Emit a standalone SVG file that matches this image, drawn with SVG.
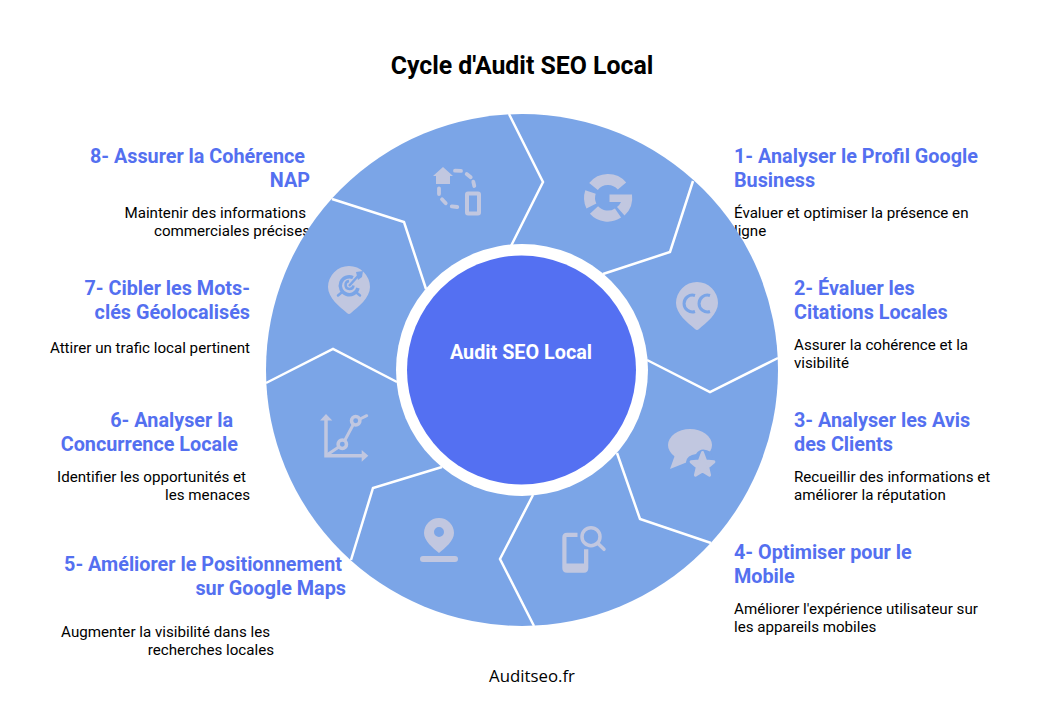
<svg xmlns="http://www.w3.org/2000/svg" width="1044" height="708" viewBox="0 0 1044 708">
<style>
text{font-family:Roboto,"Liberation Sans",sans-serif}
.t{font-size:24.85px;font-weight:700;fill:#000}
.h{font-size:19.8px;font-weight:700;fill:#5470f0}
.b{font-size:15.15px;fill:#000}
.e{text-anchor:end}
.seg{fill:#7ba5e7}
.sep{fill:none;stroke:#fff;stroke-width:2.5}
.i{fill:#c1c7e0}
.s{fill:none;stroke:#c1c7e0}
.k{fill:none;stroke:#7ba5e7}
</style>
<rect width="1044" height="708" fill="#fff"/>
<text class="t" x="522" y="74" text-anchor="middle">Cycle d'Audit SEO Local</text>
<g id="label-1"><text class="h" x="734" y="163">1- Analyser le Profil Google</text><text class="h" x="734" y="187">Business</text><text class="b" x="734" y="218">Évaluer et optimiser la présence en</text><text class="b" x="734" y="236">ligne</text></g>
<g id="label-2"><text class="h" x="794" y="295">2- Évaluer les</text><text class="h" x="794" y="319">Citations Locales</text><text class="b" x="794" y="350">Assurer la cohérence et la</text><text class="b" x="794" y="368">visibilité</text></g>
<g id="label-3"><text class="h" x="794" y="427">3- Analyser les Avis</text><text class="h" x="794" y="451">des Clients</text><text class="b" x="794" y="482">Recueillir des informations et</text><text class="b" x="794" y="500">améliorer la réputation</text></g>
<g id="label-4"><text class="h" x="734" y="559">4- Optimiser pour le</text><text class="h" x="734" y="583">Mobile</text><text class="b" x="734" y="614">Améliorer l'expérience utilisateur sur</text><text class="b" x="734" y="632">les appareils mobiles</text></g>
<g id="label-5"><text class="h e" x="342" y="571">5- Améliorer le Positionnement</text><text class="h e" x="346" y="595">sur Google Maps</text><text class="b e" x="270" y="637">Augmenter la visibilité dans les</text><text class="b e" x="274" y="655">recherches locales</text></g>
<g id="label-6"><text class="h e" x="233" y="427">6- Analyser la</text><text class="h e" x="238" y="451">Concurrence Locale</text><text class="b e" x="246" y="482">Identifier les opportunités et</text><text class="b e" x="250" y="500">les menaces</text></g>
<g id="label-7"><text class="h e" x="250" y="295">7- Cibler les Mots-</text><text class="h e" x="250" y="319">clés Géolocalisés</text><text class="b e" x="250" y="353">Attirer un trafic local pertinent</text></g>
<g id="label-8"><text class="h e" x="305" y="163">8- Assurer la Cohérence</text><text class="h e" x="310" y="187">NAP</text><text class="b e" x="306" y="218">Maintenir des informations</text><text class="b e" x="310" y="236">commerciales précises</text></g>
<g id="wheel"><circle class="seg" cx="522" cy="370" r="256"/></g>
<g id="connectors">
<path class="sep" d="M509,114L543,182L511,246"/>
<path class="sep" d="M693,181L670,252L603,274"/>
<path class="sep" d="M778,358L710,392L647,360"/>
<path class="sep" d="M711,543L640,519L617,453"/>
<path class="sep" d="M534,626L500,559L533,495"/>
<path class="sep" d="M351,560L373,488L442,467"/>
<path class="sep" d="M266,383L333,349L397,382"/>
<path class="sep" d="M332,199L404,222L426,289"/>
</g>
<g id="center"><circle cx="522" cy="370" r="126" fill="#fff"/><circle cx="521.500" cy="370" r="114.500" fill="#5470f2"/><text x="521" y="359" text-anchor="middle" font-size="19.800" font-weight="700" fill="#fff">Audit SEO Local</text></g>
<g id="icon-1">
<path class="s" stroke-width="11" d="M593.500,186.500A18.500,18.500 0 0 1 622,186M590.500,192A18.500,18.500 0 0 0 591.400,206M594,210A18.500,18.500 0 0 0 618,213"/>
<path class="i" d="M609.500,194.500H632A24,24 0 0 1 624.500,215.500L617,207A13,13 0 0 0 621,202H609.500Z"/>
</g>
<g id="icon-2">
<path class="i" d="M676,303A21,21 0 0 1 718,303C718,314 706,323 699,329Q697,331 695,329C688,323 676,314 676,303Z"/>
<path class="k" stroke-width="3" d="M695,295.500A8.400,8.400 0 1 0 695,311.500M710,295.500A8.400,8.400 0 1 0 710,311.500"/>
</g>
<g id="icon-3">
<ellipse class="i" cx="690" cy="445" rx="22" ry="16"/>
<path class="i" d="M675,455L670,469L690,461Z"/>
<path fill="#7ba5e7" d="M686,462Q687,455 696,454Q701,446 711,452L720,480H686Z"/>
<path class="i" stroke="#c1c7e0" stroke-width="3" stroke-linejoin="round" d="M702.500,452.500L705.700,461.050L713.900,461.800L707.700,467.200L709.550,475.200L702.500,471L695.450,475.200L697.300,467.200L691.100,461.800L699.300,461.050Z"/>
</g>
<g id="icon-4">
<path class="i" d="M577.500,532.700H567Q562.300,532.700 562.300,537.500V568Q562.300,572.700 567,572.700H584Q588.300,572.700 588.300,568V549.300H584V563.500H566.500V537H577.500Z"/>
<circle class="s" stroke-width="3.500" cx="591" cy="536.700" r="9"/>
<path class="s" stroke-width="3.500" stroke-linecap="round" d="M597.700,543.300L604,549.300"/>
</g>
<g id="icon-5">
<path class="i" fill-rule="evenodd" d="M424,533A15,15 0 0 1 454,533C454,541 445,548 439,553C433,548 424,541 424,533ZM444,532A5,5 0 1 0 434,532A5,5 0 1 0 444,532Z"/>
<rect class="i" x="420" y="556" width="38" height="6" rx="3"/>
</g>
<g id="icon-6">
<path class="s" stroke-width="3.500" d="M326,418V455.700H364"/>
<path class="i" d="M320,420.500L326,414L332.300,420.500ZM361.700,450L368.300,455.700L361.700,461.700Z"/>
<path class="s" stroke-width="3" stroke-linecap="round" d="M328.300,454L338,447.500M345,440L353,425M361,418.500L366.700,415.700"/>
<circle class="s" stroke-width="3.500" cx="342.300" cy="444.300" r="4.200"/>
<circle class="s" stroke-width="3.500" cx="355.700" cy="420.700" r="4.200"/>
</g>
<g id="icon-7">
<path class="i" d="M328,287A21,21 0 0 1 370,287C370,298 358,307 351,313Q349,315 347,313C340,307 328,298 328,287Z"/>
<path class="k" stroke-width="3.500" d="M353,277.500A9,9 0 1 0 358,288"/>
<path class="k" stroke-width="2.500" d="M349,281A4,4 0 1 0 353.500,285.500M349,286L358,276"/>
<path fill="#7ba5e7" d="M356,272L363,271L362,277L358,280Z"/>
<path class="k" stroke-width="2.500" stroke-linecap="round" d="M341,293L338,295.500M357,293L360,295.500"/>
</g>
<g id="icon-8">
<path class="i" d="M433,176L443,167L453,176H450V184H436V176Z"/>
<path class="s" stroke-width="3.800" stroke-linecap="round" d="M455,170.700L461,170.900M466.700,174L470.700,177.300M473.300,181.700L474.300,186M439,188.300L439,194M442,199.300L445.700,203.300M451.700,206.300L457.300,207"/>
<rect class="s" stroke-width="4" x="467" y="193.500" width="12" height="20" rx="1"/>
</g>
<text id="footer" x="532" y="682" text-anchor="middle" font-size="16.800" style="font-family:'Open Sans','Noto Sans',sans-serif" fill="#000">Auditseo.fr</text>
</svg>
